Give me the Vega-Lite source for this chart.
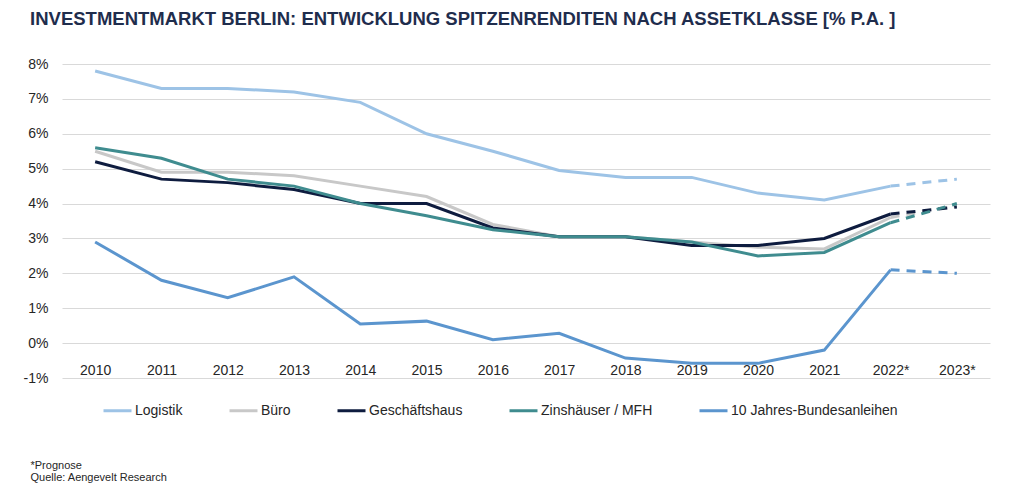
{
  "$schema": "https://vega.github.io/schema/vega-lite/v6.json",
  "width": 928,
  "height": 314,
  "autosize": {"type": "none"},
  "padding": {"left": 62, "top": 64, "right": 34, "bottom": 113},
  "background": "white",
  "config": {
    "view": {"stroke": null},
    "font": "Liberation Sans"
  },
  "title": {
    "text": "INVESTMENTMARKT BERLIN: ENTWICKLUNG SPITZENRENDITEN NACH ASSETKLASSE [% P.A. ]",
    "anchor": "start",
    "dx": 7,
    "offset": 29,
    "fontSize": 18.5,
    "fontWeight": "bold",
    "color": "#1F2D4D",
    "font": "Liberation Sans"
  },
  "data": {
    "values": [
      {"year": "2010", "series": "Logistik", "value": 7.8},
      {"year": "2011", "series": "Logistik", "value": 7.3},
      {"year": "2012", "series": "Logistik", "value": 7.3},
      {"year": "2013", "series": "Logistik", "value": 7.2},
      {"year": "2014", "series": "Logistik", "value": 6.9},
      {"year": "2015", "series": "Logistik", "value": 6.0},
      {"year": "2016", "series": "Logistik", "value": 5.5},
      {"year": "2017", "series": "Logistik", "value": 4.95},
      {"year": "2018", "series": "Logistik", "value": 4.75},
      {"year": "2019", "series": "Logistik", "value": 4.75},
      {"year": "2020", "series": "Logistik", "value": 4.3},
      {"year": "2021", "series": "Logistik", "value": 4.1},
      {"year": "2022*", "series": "Logistik", "value": 4.5},
      {"year": "2023*", "series": "Logistik", "value": 4.7},
      {"year": "2010", "series": "Büro", "value": 5.5},
      {"year": "2011", "series": "Büro", "value": 4.9},
      {"year": "2012", "series": "Büro", "value": 4.9},
      {"year": "2013", "series": "Büro", "value": 4.8},
      {"year": "2014", "series": "Büro", "value": 4.5},
      {"year": "2015", "series": "Büro", "value": 4.2},
      {"year": "2016", "series": "Büro", "value": 3.4},
      {"year": "2017", "series": "Büro", "value": 3.05},
      {"year": "2018", "series": "Büro", "value": 3.05},
      {"year": "2019", "series": "Büro", "value": 2.9},
      {"year": "2020", "series": "Büro", "value": 2.75},
      {"year": "2021", "series": "Büro", "value": 2.7},
      {"year": "2022*", "series": "Büro", "value": 3.6},
      {"year": "2023*", "series": "Büro", "value": 3.95},
      {"year": "2010", "series": "Geschäftshaus", "value": 5.2},
      {"year": "2011", "series": "Geschäftshaus", "value": 4.7},
      {"year": "2012", "series": "Geschäftshaus", "value": 4.6},
      {"year": "2013", "series": "Geschäftshaus", "value": 4.4},
      {"year": "2014", "series": "Geschäftshaus", "value": 4.0},
      {"year": "2015", "series": "Geschäftshaus", "value": 4.0},
      {"year": "2016", "series": "Geschäftshaus", "value": 3.3},
      {"year": "2017", "series": "Geschäftshaus", "value": 3.05},
      {"year": "2018", "series": "Geschäftshaus", "value": 3.05},
      {"year": "2019", "series": "Geschäftshaus", "value": 2.8},
      {"year": "2020", "series": "Geschäftshaus", "value": 2.8},
      {"year": "2021", "series": "Geschäftshaus", "value": 3.0},
      {"year": "2022*", "series": "Geschäftshaus", "value": 3.7},
      {"year": "2023*", "series": "Geschäftshaus", "value": 3.9},
      {"year": "2010", "series": "Zinshäuser / MFH", "value": 5.6},
      {"year": "2011", "series": "Zinshäuser / MFH", "value": 5.3},
      {"year": "2012", "series": "Zinshäuser / MFH", "value": 4.7},
      {"year": "2013", "series": "Zinshäuser / MFH", "value": 4.5},
      {"year": "2014", "series": "Zinshäuser / MFH", "value": 4.0},
      {"year": "2015", "series": "Zinshäuser / MFH", "value": 3.65},
      {"year": "2016", "series": "Zinshäuser / MFH", "value": 3.25},
      {"year": "2017", "series": "Zinshäuser / MFH", "value": 3.05},
      {"year": "2018", "series": "Zinshäuser / MFH", "value": 3.05},
      {"year": "2019", "series": "Zinshäuser / MFH", "value": 2.9},
      {"year": "2020", "series": "Zinshäuser / MFH", "value": 2.5},
      {"year": "2021", "series": "Zinshäuser / MFH", "value": 2.6},
      {"year": "2022*", "series": "Zinshäuser / MFH", "value": 3.45},
      {"year": "2023*", "series": "Zinshäuser / MFH", "value": 4.0},
      {"year": "2010", "series": "10 Jahres-Bundesanleihen", "value": 2.9},
      {"year": "2011", "series": "10 Jahres-Bundesanleihen", "value": 1.8},
      {"year": "2012", "series": "10 Jahres-Bundesanleihen", "value": 1.3},
      {"year": "2013", "series": "10 Jahres-Bundesanleihen", "value": 1.9},
      {"year": "2014", "series": "10 Jahres-Bundesanleihen", "value": 0.55},
      {"year": "2015", "series": "10 Jahres-Bundesanleihen", "value": 0.63},
      {"year": "2016", "series": "10 Jahres-Bundesanleihen", "value": 0.1},
      {"year": "2017", "series": "10 Jahres-Bundesanleihen", "value": 0.28},
      {"year": "2018", "series": "10 Jahres-Bundesanleihen", "value": -0.43},
      {"year": "2019", "series": "10 Jahres-Bundesanleihen", "value": -0.58},
      {"year": "2020", "series": "10 Jahres-Bundesanleihen", "value": -0.58},
      {"year": "2021", "series": "10 Jahres-Bundesanleihen", "value": -0.2},
      {"year": "2022*", "series": "10 Jahres-Bundesanleihen", "value": 2.1},
      {"year": "2023*", "series": "10 Jahres-Bundesanleihen", "value": 2.0}
    ]
  },
  "encoding": {
    "x": {
      "field": "year",
      "type": "ordinal",
      "sort": null,
      "scale": {"type": "point", "padding": 0.5},
      "axis": {
        "domain": false,
        "ticks": false,
        "labelAngle": 0,
        "labelFontSize": 14,
        "labelColor": "#262626",
        "labelFont": "Liberation Sans",
        "offset": -16,
        "labelPadding": 1,
        "title": ["*Prognose", "Quelle: Aengevelt Research"],
        "titleFontSize": 11,
        "titleFontWeight": "normal",
        "titleColor": "#262626",
        "titleFont": "Liberation Sans",
        "titleAlign": "left",
        "titleBaseline": "top",
        "titleLineHeight": 12.5,
        "titleX": -32,
        "titleY": 97
      }
    },
    "y": {
      "field": "value",
      "type": "quantitative",
      "scale": {"domain": [-1, 8], "nice": false, "zero": false},
      "axis": {
        "values": [-1, 0, 1, 2, 3, 4, 5, 6, 7, 8],
        "labelExpr": "datum.value + '%'",
        "domain": false,
        "ticks": false,
        "grid": true,
        "gridColor": "#D9D9D9",
        "gridWidth": 1,
        "labelFontSize": 14,
        "labelColor": "#262626",
        "labelFont": "Liberation Sans",
        "labelPadding": 14,
        "title": null
      }
    },
    "color": {
      "field": "series",
      "type": "nominal",
      "sort": ["Logistik", "Büro", "Geschäftshaus", "Zinshäuser / MFH", "10 Jahres-Bundesanleihen"],
      "scale": {
        "domain": ["Logistik", "Büro", "Geschäftshaus", "Zinshäuser / MFH", "10 Jahres-Bundesanleihen"],
        "range": ["#9DC3E6", "#C8C8C8", "#0E1C3F", "#3F8C8F", "#5B95CE"]
      },
      "legend": {
        "title": null,
        "orient": "none",
        "direction": "horizontal",
        "legendX": 40,
        "legendY": 331,
        "symbolType": "stroke",
        "symbolSize": 784,
        "symbolStrokeWidth": 3,
        "labelFontSize": 14,
        "labelColor": "#262626",
        "labelFont": "Liberation Sans",
        "labelOffset": 2,
        "labelLimit": 0,
        "columnPadding": 40
      }
    }
  },
  "layer": [
    {
      "transform": [{"filter": "datum.year != '2023*'"}],
      "mark": {"type": "line", "strokeWidth": 3}
    },
    {
      "transform": [{"filter": "datum.year == '2022*' || datum.year == '2023*'"}],
      "mark": {"type": "line", "strokeWidth": 3, "strokeDash": [9, 7]}
    }
  ]
}
